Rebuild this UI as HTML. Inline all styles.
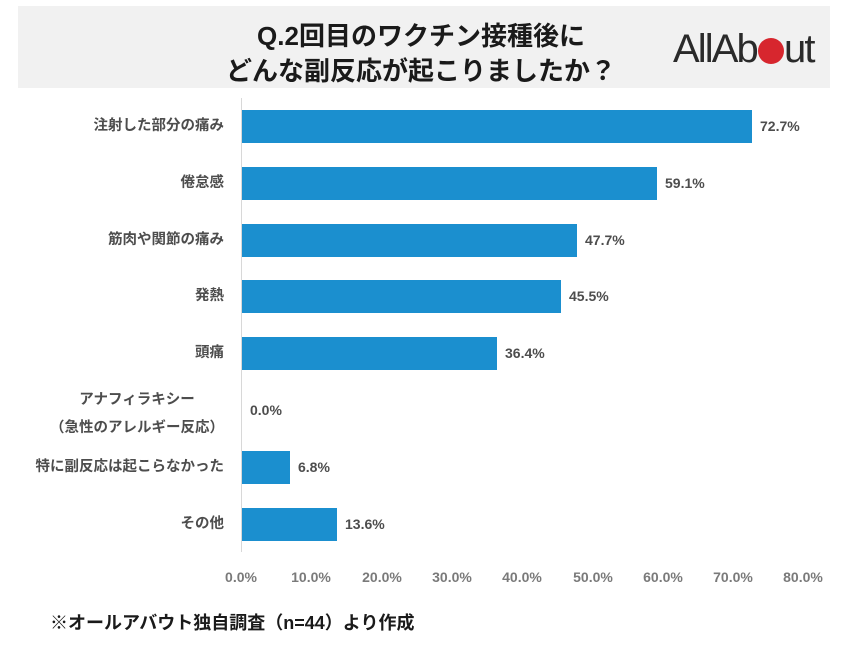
<!DOCTYPE html>
<html><head><meta charset="utf-8"><style>
*{margin:0;padding:0;box-sizing:border-box}
body{width:851px;height:647px;background:#fff;position:relative;overflow:hidden;font-family:"Liberation Sans","Noto Sans CJK JP",sans-serif}
.hdr{position:absolute;left:18px;top:6px;width:812px;height:82px;background:#f1f1f1}
.t{position:absolute;left:0;width:842px;text-align:center;font-family:"Liberation Sans","Noto Sans CJK JP",sans-serif;font-weight:700;font-size:26px;color:#1a1a1a;line-height:34px;white-space:nowrap}
.logo{position:absolute;font-family:"Liberation Sans",sans-serif;font-size:40px;line-height:40px;color:#2a2a2a;letter-spacing:-1.9px;white-space:nowrap}
.dot{position:absolute;left:758px;top:38px;width:26px;height:26px;border-radius:50%;background:#d7262e}
.ax{position:absolute;left:241px;top:98px;width:1px;height:454px;background:#d8d8d8}
.bar{position:absolute;left:242px;height:33px;background:#1b8fcf}
.cl{position:absolute;right:627px;font-weight:700;font-size:14.5px;color:#4d4d4d;line-height:20px;white-space:nowrap;text-align:right}
.vl{position:absolute;font-weight:700;font-size:14px;color:#4d4d4d;line-height:20px;white-space:nowrap}
.tk{position:absolute;top:567px;width:70px;margin-left:-35px;text-align:center;font-weight:700;font-size:14px;color:#7a7a7a;line-height:20px}
.fn{position:absolute;left:50px;top:611px;font-weight:700;font-size:18px;color:#1a1a1a;line-height:24px;white-space:nowrap}
</style></head><body>
<div class="hdr"></div>
<div class="t" style="top:19px">Q.2回目のワクチン接種後に</div>
<div class="t" style="top:54px">どんな副反応が起こりましたか？</div>
<div class="logo" style="left:673px;top:29px">AllAb</div>
<div class="dot"></div>
<div class="logo" style="left:784px;top:29px">ut</div>

<div class="ax"></div>

<div class="bar" style="top:110px;width:510px"></div>
<div class="bar" style="top:167px;width:415px"></div>
<div class="bar" style="top:224px;width:335px"></div>
<div class="bar" style="top:280px;width:319px"></div>
<div class="bar" style="top:337px;width:255px"></div>
<div class="bar" style="top:451px;width:48px"></div>
<div class="bar" style="top:508px;width:95px"></div>

<div class="cl" style="top:116px">注射した部分の痛み</div>
<div class="cl" style="top:173px">倦怠感</div>
<div class="cl" style="top:230px">筋肉や関節の痛み</div>
<div class="cl" style="top:286px">発熱</div>
<div class="cl" style="top:343px">頭痛</div>
<div class="cl" style="top:386px;text-align:center;line-height:28px">アナフィラキシー<br>（急性のアレルギー反応）</div>
<div class="cl" style="top:457px">特に副反応は起こらなかった</div>
<div class="cl" style="top:514px">その他</div>

<div class="vl" style="left:760px;top:116px">72.7%</div>
<div class="vl" style="left:665px;top:173px">59.1%</div>
<div class="vl" style="left:585px;top:230px">47.7%</div>
<div class="vl" style="left:569px;top:286px">45.5%</div>
<div class="vl" style="left:505px;top:343px">36.4%</div>
<div class="vl" style="left:250px;top:400px">0.0%</div>
<div class="vl" style="left:298px;top:457px">6.8%</div>
<div class="vl" style="left:345px;top:514px">13.6%</div>

<div class="tk" style="left:241px">0.0%</div>
<div class="tk" style="left:311px">10.0%</div>
<div class="tk" style="left:382px">20.0%</div>
<div class="tk" style="left:452px">30.0%</div>
<div class="tk" style="left:522px">40.0%</div>
<div class="tk" style="left:593px">50.0%</div>
<div class="tk" style="left:663px">60.0%</div>
<div class="tk" style="left:733px">70.0%</div>
<div class="tk" style="left:803px">80.0%</div>

<div class="fn">※オールアバウト独自調査（n=44）より作成</div>
</body></html>
